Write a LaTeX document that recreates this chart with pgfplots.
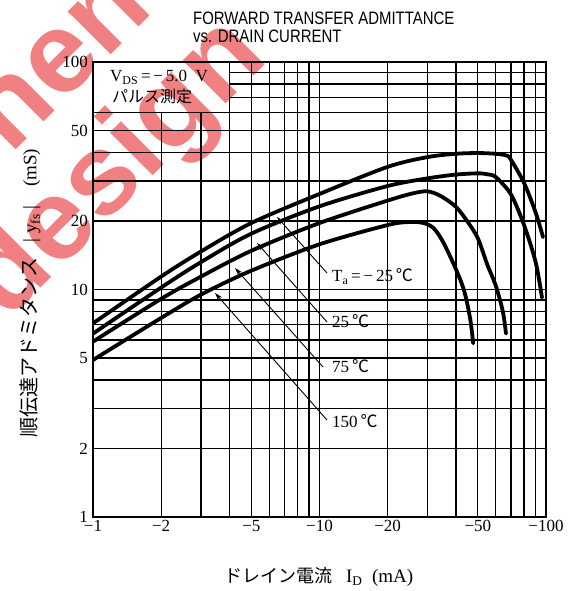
\documentclass[border=0pt]{standalone}
\usepackage{fontspec}
\setmainfont{Liberation Serif}
\newfontfamily\cjk{Noto Sans CJK JP}
\newfontfamily\sansf{Liberation Sans}
\usepackage{graphicx}
\usepackage{pgfplots}
\pgfplotsset{compat=1.18}
\usetikzlibrary{arrows.meta}
\definecolor{wm}{RGB}{241,128,130}

\newcommand\watermark{%
  \node[rotate=45, text=wm, inner sep=0pt, font=\sansf\bfseries\fontsize{115}{115}\selectfont] at (-148pt,332pt) {component};
  \node[rotate=45, text=wm, inner sep=0pt, font=\sansf\bfseries\fontsize{115}{115}\selectfont] at (25pt,347pt) {design};
}

\begin{document}
\begin{tikzpicture}
\useasboundingbox (-93pt,-74pt) rectangle (491pt,517pt);
\watermark
\begin{axis}[
  at={(0pt,0pt)}, anchor=south west,
  width=453pt, height=455pt, scale only axis,
  xmode=log, ymode=log,
  xmin=1, xmax=100, ymin=1, ymax=100,
  xtick={1,2,3,4,5,6,7,8,9,10,20,30,40,50,60,70,80,90,100},
  xticklabels={−1,−2,{},{},−5,{},{},{},{},−10,−20,{},{},−50,{},{},{},{},−100},
  ytick={1,2,3,4,5,6,7,8,9,10,20,30,40,50,60,70,80,90,100},
  yticklabels={1,2,{},{},5,{},{},{},{},10,20,{},{},50,{},{},{},{},100},
  grid=major,
  major grid style={black, line width=1.3pt},
  major tick length=0pt,
  axis line style={black, line width=2.6pt},
  tick label style={font=\fontsize{17}{17}\selectfont, inner sep=0pt},
  xticklabel style={anchor=north, yshift=-3pt},
  yticklabel style={anchor=east, xshift=-5pt},
]
\addplot[black, line width=3.8pt, smooth, line cap=round] coordinates {
  (1,7.1) (2,11.4) (3,14.7) (5,19.6) (10,26.3) (20,34.6) (30,38.2) (40,39.5)
  (50,39.8) (60,39.5) (67,38.8) (70,37.2) (80,29.4) (90,21.8) (97,17)};
\addplot[black, line width=3.8pt, smooth, line cap=round] coordinates {
  (1,6.4) (2,10.2) (3,13.2) (5,17.6) (10,23.2) (20,28.5) (30,30.8) (40,32)
  (50,32.4) (55,32.1) (60,31.2) (70,26.2) (80,19.2) (90,13.2) (96,9.2)};
\addplot[black, line width=3.8pt, smooth, line cap=round] coordinates {
  (1,5.9) (2,9.1) (3,11.4) (5,14.8) (10,19.6) (20,24.6) (26,26.5) (30,27)
  (34.2,25.8) (40,23.1) (45,19.9) (50,16.8) (55,12.9) (60,10.4) (64.5,8) (66.6,6.4)};
\addplot[black, line width=3.8pt, smooth, line cap=round] coordinates {
  (1,4.9) (2,7.5) (3,9.5) (5,12.1) (10,15.8) (20,19.2) (25,19.8) (28.8,19.6)
  (31.9,18.6) (35.1,16.2) (40,12.3) (43.6,9.8) (46.3,7.4) (47.7,5.8)};
\coordinate (bSW) at (axis cs:1,60);
\coordinate (bNE) at (axis cs:4,100);
\end{axis}
% blank box top-left
\fill[white] ([xshift=1.3pt,yshift=0.65pt]bSW) rectangle ([xshift=-0.65pt,yshift=-1.3pt]bNE);
\begin{scope}
  \clip ([xshift=1.3pt,yshift=0.65pt]bSW) rectangle ([xshift=-0.65pt,yshift=-1.3pt]bNE);
  \watermark
\end{scope}
\node[anchor=base west, inner sep=0pt] at (17pt,435pt) {\fontsize{17}{17}\selectfont V\textsubscript{DS}\,=\,−\,5.0\ \ V};
\node[anchor=base west, inner sep=0pt] at (19pt,414pt) {\cjk\fontsize{16}{16}\selectfont パルス測定};
% title
\node[anchor=base west, inner sep=0pt] at (100pt,492pt) {\scalebox{0.83}[1]{\sansf\fontsize{18}{18}\selectfont FORWARD TRANSFER ADMITTANCE}};
\node[anchor=base west, inner sep=0pt] at (100pt,474pt) {\scalebox{0.83}[1]{\sansf\fontsize{18}{18}\selectfont vs. DRAIN CURRENT}};
% axis labels
\node[rotate=90, inner sep=0pt] at (-63pt,224pt) {\fontsize{19}{19}\selectfont{\cjk\fontsize{20}{20}\selectfont 順伝達アドミタンス}\hspace{0.8em}|\ y\textsubscript{fs}\ |\hspace{1em}(mS)};
\node[inner sep=0pt] at (226pt,-60pt) {\fontsize{19}{19}\selectfont{\cjk\fontsize{18}{18}\selectfont ドレイン電流}\hspace{0.7em}I\textsubscript{D}\hspace{0.5em}(mA)};
% curve labels and arrows
\node[anchor=base west, inner sep=0pt] at (239pt,235pt) {\fontsize{17}{17}\selectfont T\textsubscript{a}\,=\,−\,25\,{\cjk ℃}};
\node[anchor=base west, inner sep=0pt] at (239pt,189pt) {\fontsize{17}{17}\selectfont 25\,{\cjk ℃}};
\node[anchor=base west, inner sep=0pt] at (239pt,144pt) {\fontsize{17}{17}\selectfont 75\,{\cjk ℃}};
\node[anchor=base west, inner sep=0pt] at (239pt,89pt) {\fontsize{17}{17}\selectfont 150\,{\cjk ℃}};
\draw[line width=0.9pt, -{Stealth[length=8pt,width=5pt]}] (234pt,244pt) -- (184pt,300pt);
\draw[line width=0.9pt, -{Stealth[length=8pt,width=5pt]}] (234pt,195pt) -- (164pt,274pt);
\draw[line width=0.9pt, -{Stealth[length=8pt,width=5pt]}] (230pt,150pt) -- (142pt,249pt);
\draw[line width=0.9pt, -{Stealth[length=8pt,width=5pt]}] (234pt,97pt) -- (122pt,224pt);
\end{tikzpicture}
\end{document}
